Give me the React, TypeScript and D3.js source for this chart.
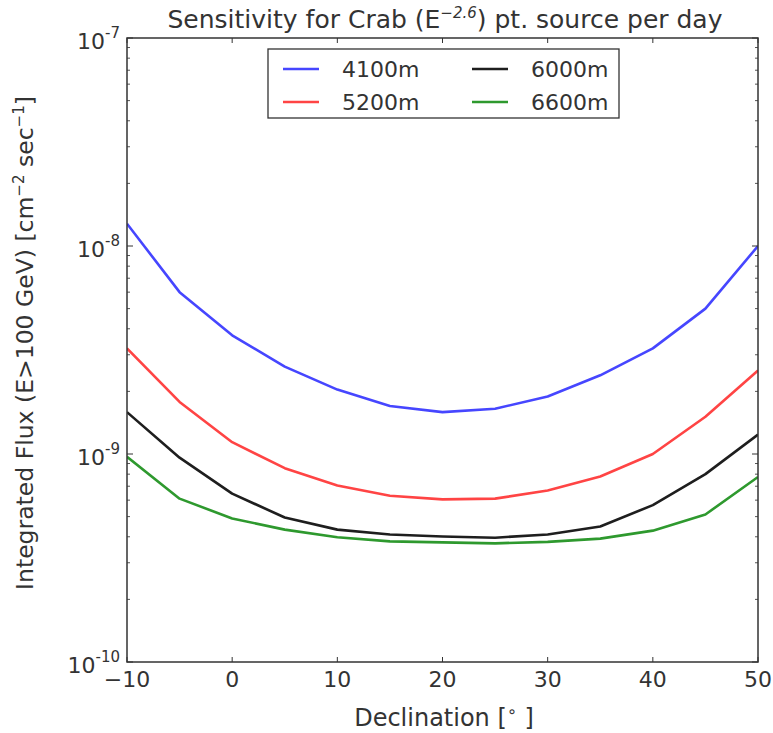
import React from "react";
import * as d3 from "d3";

const declinations = [-10, -5, 0, 5, 10, 15, 20, 25, 30, 35, 40, 45, 50];
const series4100 = [1.28e-8, 6.0e-9, 3.72e-9, 2.63e-9, 2.04e-9, 1.7e-9, 1.59e-9, 1.65e-9, 1.89e-9, 2.39e-9, 3.22e-9, 5.0e-9, 1.0e-8];
const series5200 = [3.22e-9, 1.78e-9, 1.14e-9, 8.55e-10, 7.05e-10, 6.3e-10, 6.05e-10, 6.1e-10, 6.68e-10, 7.8e-10, 1.0e-9, 1.51e-9, 2.52e-9];
const series6000 = [1.59e-9, 9.6e-10, 6.45e-10, 4.95e-10, 4.33e-10, 4.1e-10, 4.01e-10, 3.96e-10, 4.1e-10, 4.48e-10, 5.68e-10, 8.0e-10, 1.24e-9];
const series6600 = [9.7e-10, 6.1e-10, 4.9e-10, 4.33e-10, 3.98e-10, 3.8e-10, 3.76e-10, 3.72e-10, 3.78e-10, 3.92e-10, 4.28e-10, 5.12e-10, 7.75e-10];
const seriesNames = ["4100m", "5200m", "6000m", "6600m"];
const seriesColors = ["#4646ff", "#ff4444", "#1e1e1e", "#2e992e"];
const xTicks = [-10, 0, 10, 20, 30, 40, 50];
const yExponents = [-10, -9, -8, -7];

export default function App() {
  const W = 773, H = 733;
  const left = 127, right = 758, top = 38, bottom = 662;
  const x = d3.scaleLinear().domain([-10, 50]).range([left, right]);
  const y = d3.scaleLog().domain([1e-10, 1e-7]).range([bottom, top]);
  const allSeries = [series4100, series5200, series6000, series6600];
  const line = d3.line<number>().x((_, i) => x(declinations[i])).y((v) => y(v));
  const font = "'DejaVu Sans', sans-serif";
  const tc = "#333";

  const minorTicks: number[] = [];
  for (let e = -10; e < -7; e++) {
    for (let m = 2; m <= 9; m++) minorTicks.push(m * Math.pow(10, e));
  }

  // legend layout
  const legX = 268, legY = 49, legW = 351, legH = 69;
  const legendItems = [0, 1, 2, 3].map((i) => ({
    col: i < 2 ? 0 : 1,
    row: i % 2,
    i,
  }));

  return (
    <svg width={W} height={H} style={{ position: "absolute", left: 0, top: 0, background: "#fff" }} fontFamily={font}>
      <rect x={0} y={0} width={W} height={H} fill="#fff" />
      <defs>
        <clipPath id="clip">
          <rect x={left} y={top} width={right - left} height={bottom - top} />
        </clipPath>
      </defs>
      {/* title */}
      <text x={445} y={28} textAnchor="middle" fontSize={25} fill={tc}>
        Sensitivity for Crab (E<tspan dy={-10} fontSize={15} fontStyle="italic">−2.6</tspan><tspan dy={10}>) pt. source per day</tspan>
      </text>
      {/* lines */}
      <g clipPath="url(#clip)">
        {allSeries.map((s, i) => (
          <path key={i} d={line(s) || ""} fill="none" stroke={seriesColors[i]} strokeWidth={2.6} strokeLinejoin="round" />
        ))}
      </g>
      {/* ticks */}
      {xTicks.map((t) => (
        <g key={t}>
          <line x1={x(t)} x2={x(t)} y1={bottom} y2={bottom - 5} stroke="#333" strokeWidth={1} />
          <line x1={x(t)} x2={x(t)} y1={top} y2={top + 5} stroke="#333" strokeWidth={1} />
          <text x={x(t)} y={bottom + 25} textAnchor="middle" fontSize={22} fill={tc}>
            {t < 0 ? "−" + Math.abs(t) : t}
          </text>
        </g>
      ))}
      {minorTicks.map((v, k) => (
        <g key={k}>
          <line x1={left} x2={left + 3} y1={y(v)} y2={y(v)} stroke="#555" strokeWidth={1} />
          <line x1={right} x2={right - 3} y1={y(v)} y2={y(v)} stroke="#555" strokeWidth={1} />
        </g>
      ))}
      {yExponents.map((e) => (
        <g key={e}>
          <line x1={left} x2={left + 6} y1={y(Math.pow(10, e))} y2={y(Math.pow(10, e))} stroke="#333" strokeWidth={1} />
          <line x1={right} x2={right - 6} y1={y(Math.pow(10, e))} y2={y(Math.pow(10, e))} stroke="#333" strokeWidth={1} />
          <text x={left - 7} y={y(Math.pow(10, e)) + 11} textAnchor="end" fontSize={22} fill={tc}>
            10<tspan dy={-11} fontSize={15}>{e}</tspan>
          </text>
        </g>
      ))}
      {/* frame */}
      <rect x={left} y={top} width={right - left} height={bottom - top} fill="none" stroke="#333" strokeWidth={1.5} />
      {/* axis labels */}
      <text x={444} y={726} textAnchor="middle" fontSize={24} fill={tc}>
        Declination [<tspan dy={-9} fontSize={16}>∘</tspan><tspan dy={9}> ]</tspan>
      </text>
      <text transform={`translate(33, 343) rotate(-90)`} textAnchor="middle" fontSize={23.5} fill={tc}>
        Integrated Flux (E&gt;100 GeV) [cm<tspan dy={-9} fontSize={15}>−2</tspan><tspan dy={9}> sec</tspan><tspan dy={-9} fontSize={15}>−1</tspan><tspan dy={9}>]</tspan>
      </text>
      {/* legend */}
      <rect x={legX} y={legY} width={legW} height={legH} fill="#fff" stroke="#333" strokeWidth={1.3} />
      {legendItems.map(({ col, row, i }) => {
        const lx = legX + 15 + col * 189;
        const ly = legY + 20 + row * 33;
        return (
          <g key={i}>
            <line x1={lx} x2={lx + 36} y1={ly} y2={ly} stroke={seriesColors[i]} strokeWidth={2.6} />
            <text x={lx + 59} y={ly + 8} fontSize={22} fill={tc}>
              {seriesNames[i]}
            </text>
          </g>
        );
      })}
    </svg>
  );
}
